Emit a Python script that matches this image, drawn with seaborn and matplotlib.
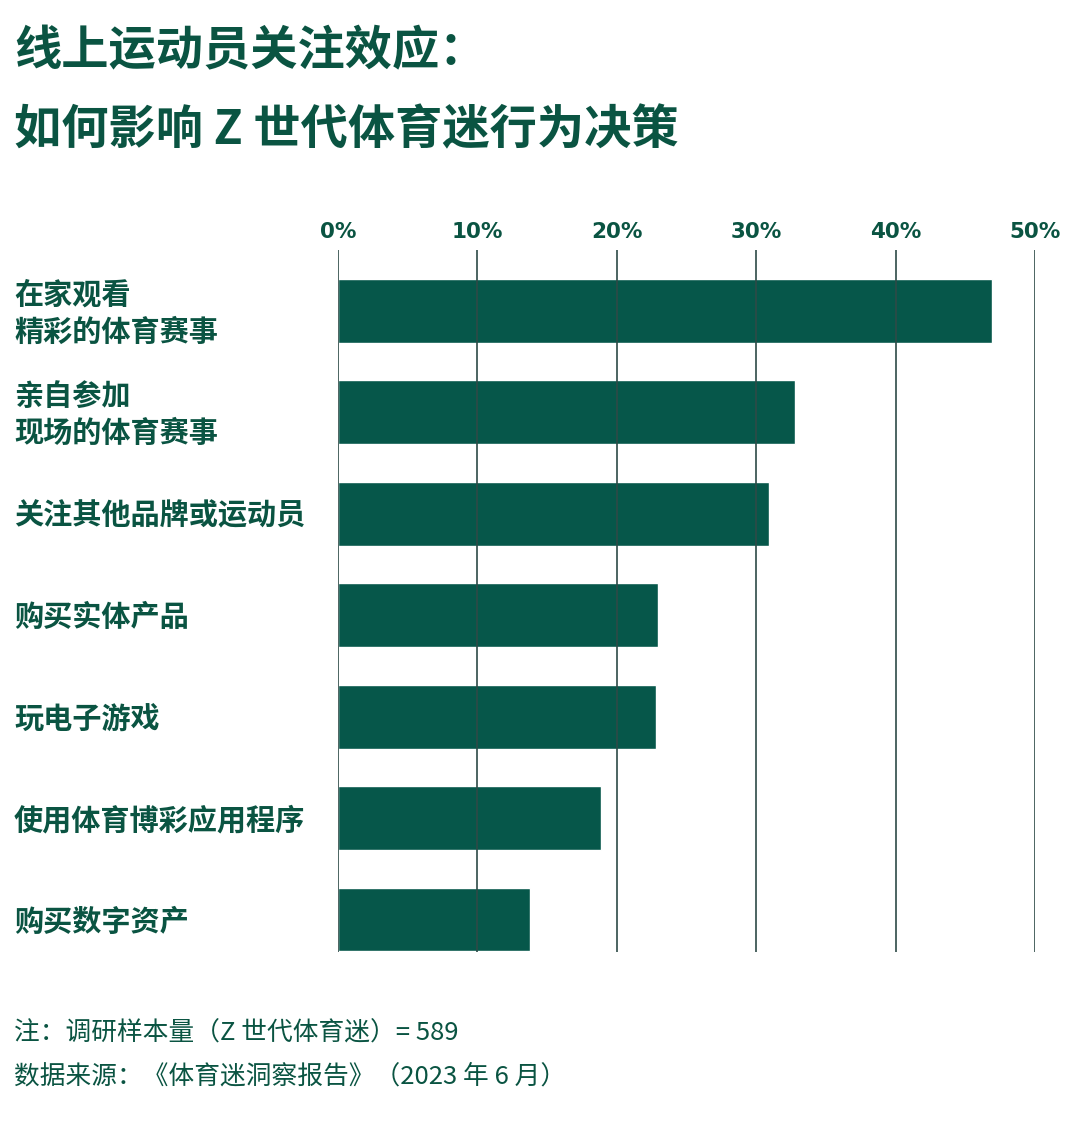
import matplotlib
matplotlib.use("Agg")
import matplotlib.pyplot as plt
import matplotlib.transforms as mtransforms
import seaborn as sns
import pandas as pd

sns.set_theme(style="white")
plt.rcParams["font.family"] = ["Noto Sans CJK SC", "DejaVu Sans"]

# ── data ──────────────────────────────────────────────────────────────────────
categories = ["在家观看\n精彩的体育赛事", "亲自参加\n现场的体育赛事", "关注其他品牌或运动员",
              "购买实体产品", "玩电子游戏", "使用体育博彩应用程序", "购买数字资产"]
shares = [46.9, 32.8, 30.9, 23.0, 22.8, 18.9, 13.8]
xticks = [0, 10, 20, 30, 40, 50]
xtick_labels = ["0%", "10%", "20%", "30%", "40%", "50%"]

title = "线上运动员关注效应：\n如何影响 Z 世代体育迷行为决策"
note1 = "注：调研样本量（Z 世代体育迷）= 589"
note2 = "数据来源：《体育迷洞察报告》（2023 年 6 月）"

BAR = "#06574a"
TXT = "#0a5442"
GRID = "#2e4a47"

df = pd.DataFrame({"cat": categories, "share": shares})

fig = plt.figure(figsize=(10.8, 11.25), dpi=100)
ax = fig.add_axes([337.7 / 1080, 1 - 952 / 1125, (1035 - 337.7) / 1080, (952 - 250) / 1125])

sns.barplot(data=df, x="share", y="cat", color=BAR, saturation=1, width=0.63, ax=ax, zorder=1)

ax.set_xlim(0, 50)
ax.set_ylim(6.32, -0.6)
ax.set_xticks(xticks)
ax.set_xticklabels(xtick_labels, fontsize=15.5, fontweight="bold", color=TXT,
                   family=["DejaVu Sans"])
ax.xaxis.tick_top()
ax.tick_params(axis="x", length=0, pad=6)
ax.set_yticks([])
ax.set_xlabel(""); ax.set_ylabel("")
for s in ax.spines.values():
    s.set_visible(False)
for x in xticks:
    ax.axvline(x, color=GRID, lw=1.2, zorder=3)

# category labels, left aligned at the figure edge
trans = mtransforms.blended_transform_factory(fig.transFigure, ax.transData)
for i, c in enumerate(categories):
    ax.text(14 / 1080, i + 0.02, c, transform=trans, ha="left", va="center",
            fontsize=21, fontweight="bold", color=TXT, linespacing=1.32,
            family=["Noto Sans CJK SC", "DejaVu Sans"])

fig.text(14 / 1080, 1 - 91 / 1125, title, ha="left", va="center", fontsize=34,
         fontweight="bold", color=TXT, linespacing=1.83)
fig.text(14 / 1080, 1 - 1034 / 1125, note1, ha="left", va="center", fontsize=18.5, color=TXT)
fig.text(14 / 1080, 1 - 1077 / 1125, note2, ha="left", va="center", fontsize=18.5, color=TXT)

fig.savefig("out.png", dpi=100, facecolor="white")
